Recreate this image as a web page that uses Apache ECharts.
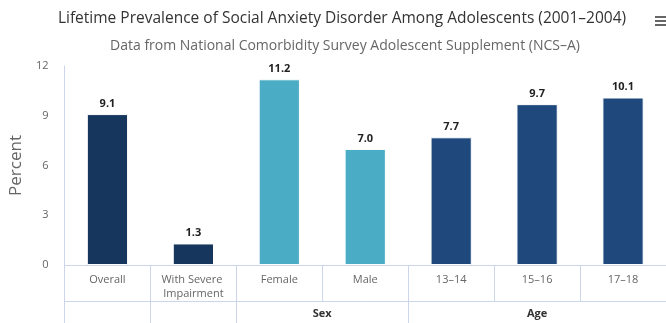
<!DOCTYPE html>
<html>
<head>
<meta charset="utf-8">
<script src="https://cdn.jsdelivr.net/npm/echarts@6/dist/echarts.min.js"></script>
<style>html,body{margin:0;padding:0;background:#fff;}#c{width:666px;height:323px;}</style>
</head>
<body>
<div id="c"></div>
<script>
const categories = ['Overall', 'With Severe Impairment', 'Female', 'Male', '13–14', '15–16', '17–18'];
const values = [9.1, 1.3, 11.2, 7.0, 7.7, 9.7, 10.1];
const groupOf = ['', '', 'Sex', 'Sex', 'Age', 'Age', 'Age'];
const yTicks = [0, 3, 6, 9, 12];
const colorByGroup = { '': '#17365d', 'Sex': '#4bacc6', 'Age': '#1f497d' };

// group boundaries and centres along the category index scale
const groupBounds = [];
const groupCentres = [];
const groupNames = [];
(function () {
  let start = 0;
  groupBounds.push(0);
  for (let i = 1; i <= groupOf.length; i++) {
    if (i === groupOf.length || groupOf[i] !== groupOf[i - 1] || groupOf[i] === '') {
      groupBounds.push(i);
      if (groupOf[start] !== '') { groupCentres.push((start + i) / 2); groupNames.push(groupOf[start]); }
      start = i;
    }
  }
})();

const font = 'Open Sans';
const chart = echarts.init(document.getElementById('c'));
chart.setOption({
  animation: false,
  textStyle: { fontFamily: font },
  title: [{
    text: 'Lifetime Prevalence of Social Anxiety Disorder Among Adolescents (2001–2004)',
    left: 337, textAlign: 'center', top: 6,
    textStyle: { fontFamily: font, fontSize: 15.5, fontWeight: 'normal', color: '#333' }
  }, {
    text: 'Data from National Comorbidity Survey Adolescent Supplement (NCS–A)',
    left: 340, textAlign: 'center', top: 34,
    textStyle: { fontFamily: font, fontSize: 14, fontWeight: 'normal', color: '#666' }
  }],
  graphic: [{
    type: 'group', left: 655, top: 16,
    children: [
      { type: 'rect', shape: { x: 0, y: 0, width: 12, height: 2 }, style: { fill: '#666' } },
      { type: 'rect', shape: { x: 0, y: 4, width: 12, height: 2 }, style: { fill: '#666' } },
      { type: 'rect', shape: { x: 0, y: 8, width: 12, height: 2 }, style: { fill: '#666' } }
    ]
  }],
  grid: { left: 62, top: 66, width: 611, height: 199 },
  xAxis: [{
    type: 'category', data: categories, position: 'bottom',
    axisLine: { lineStyle: { color: '#ccd6eb' } },
    axisTick: { show: true, length: 36, lineStyle: { color: '#ccd6eb' } },
    axisLabel: { interval: 0, color: '#666', fontSize: 11, margin: 8, width: 80, overflow: 'break', lineHeight: 14 },
    splitLine: { show: false }
  }, {
    type: 'value', min: 0, max: categories.length, position: 'bottom', offset: 36,
    axisLine: { show: true, lineStyle: { color: '#ccd6eb' } },
    axisTick: { show: true, length: 22, customValues: groupBounds, lineStyle: { color: '#ccd6eb' } },
    axisLabel: {
      show: true, customValues: groupCentres, margin: 7, color: '#333', fontSize: 11, fontWeight: 'bold',
      formatter: function (v) { const i = groupCentres.indexOf(v); return i >= 0 ? groupNames[i] : ''; }
    },
    splitLine: { show: false }
  }],
  yAxis: {
    type: 'value', min: yTicks[0], max: yTicks[yTicks.length - 1], interval: 3,
    name: 'Percent', nameLocation: 'middle', nameGap: 32, nameRotate: 90,
    nameTextStyle: { fontSize: 17, color: '#666', fontFamily: font },
    axisLine: { show: true, lineStyle: { color: '#ccd6eb' } },
    axisTick: { show: false },
    axisLabel: { color: '#666', fontSize: 11, margin: 16 },
    splitLine: { show: false }
  },
  series: [{
    type: 'bar', xAxisIndex: 0, barWidth: '48%',
    data: values.map((v, i) => ({ value: v, itemStyle: { color: colorByGroup[groupOf[i]] } })),
    itemStyle: { borderColor: '#fff', borderWidth: 1 },
    label: { show: true, position: 'top', distance: 5, color: '#222', fontSize: 11, fontWeight: 'bold', formatter: p => p.value.toFixed(1) }
  }]
});
</script>
</body>
</html>
